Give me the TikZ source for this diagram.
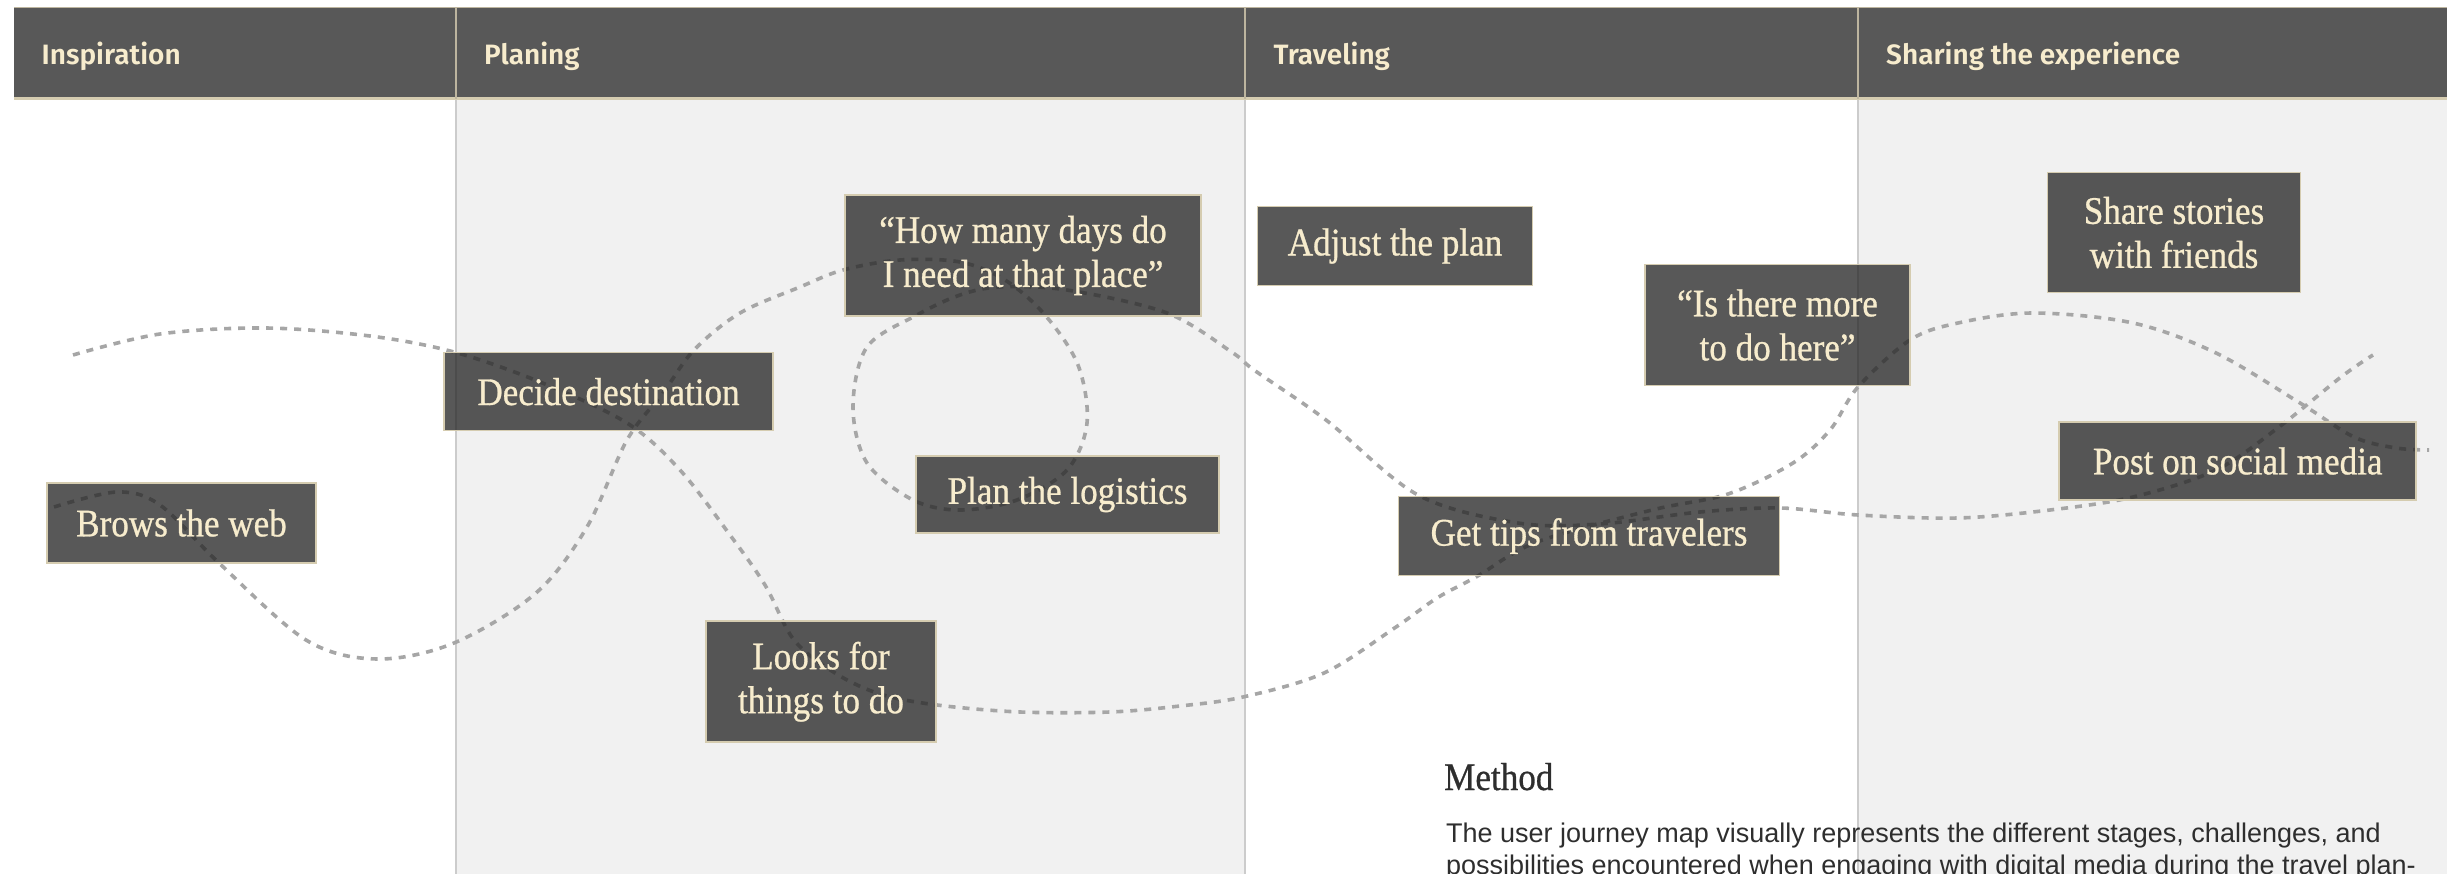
\documentclass[tikz,border=0pt]{standalone}
\usepackage{fontspec}
\setmainfont{Liberation Serif}
\newfontfamily\boxfont[FakeStretch=0.9,FakeBold=0.7]{Liberation Serif}
\newfontfamily\parafont{Liberation Sans}
\IfFontExistsTF{Fira Sans SemiBold}{\newfontfamily\hdrfont{Fira Sans SemiBold}}{\newfontfamily\hdrfontX{Fira Sans}\def\hdrfont{\hdrfontX\bfseries}}
\definecolor{hdr}{HTML}{585858}
\definecolor{cream}{HTML}{F7ECCD}
\definecolor{boxedge}{HTML}{D5CCB0}
\definecolor{colgray}{HTML}{F1F1F1}
\definecolor{sepline}{HTML}{CCCCCC}
\definecolor{dashc}{HTML}{A6A6A6}
\definecolor{boxfill}{HTML}{242424}
\definecolor{hdrline}{HTML}{BDB59F}
\definecolor{bodytext}{HTML}{2E2E2E}
\tikzset{
  jbox/.style={draw=boxedge, line width=1.5pt, fill=boxfill, fill opacity=0.76, text opacity=1,
    text=cream, font=\boxfont\fontsize{39}{44}\selectfont, align=center, inner sep=0pt},
  hdrtext/.style={anchor=base west, text=cream, font=\hdrfont\fontsize{28}{32}\selectfont, inner sep=0pt},
  journey/.style={draw=dashc, line width=3.6pt, dash pattern=on 7pt off 7pt},
  colsep/.style={draw=sepline, line width=1.2pt}
}
\begin{document}
\begin{tikzpicture}[x=1pt,y=-1pt]
\useasboundingbox (0,0) rectangle (2453,874);
\clip (0,0) rectangle (2453,874);
% column backgrounds
\fill[colgray] (456,99) rectangle (1245,874);
\fill[colgray] (1858,99) rectangle (2447,874);
\draw[colsep] (456,99) -- (456,874);
\draw[colsep] (1245,99) -- (1245,874);
\draw[colsep] (1858,99) -- (1858,874);
% header
\fill[hdr] (14,8) rectangle (2447,99);
\draw[hdrline, line width=1pt] (14,8) -- (2447,8);
\draw[boxedge, line width=3pt] (14,99) -- (2447,99);
\draw[hdrline, line width=1.5pt] (456,8) -- (456,99);
\draw[hdrline, line width=1.5pt] (1245,8) -- (1245,99);
\draw[hdrline, line width=1.5pt] (1858,8) -- (1858,99);
\node[hdrtext] (h1) at (41.5,65) {Inspiration};
\node[hdrtext] (h2) at (484,65) {Planing};
\node[hdrtext] (h3) at (1273.5,65) {Traveling};
\node[hdrtext] (h4) at (1886,65) {Sharing the experience};
% journey curves
\coordinate (aStart) at (73,355);
\coordinate (aEnd) at (2429,450);
\coordinate (bStart) at (54,507);
\coordinate (bEnd) at (2373,355);
\draw[journey] plot[smooth, tension=0.55] coordinates {
(aStart) (160,334) (265,328) (370,336) (454,352) (540,382) (627,423) (680,470) (730,535) (765,585)
(794,640) (835,673) (880,694) (937,705) (1020,712) (1110,712) (1180,706) (1243,697) (1324,673)
(1396,627) (1437,598) (1476,577) (1537,542) (1652,510) (1728,494) (1793,463) (1830,430) (1858,387)
(1910,340) (1958,323) (2033,313) (2133,323) (2216,353) (2300,403) (2354,437) (2396,448) (aEnd)};
\draw[journey] plot[smooth, tension=0.55] coordinates {
(bStart) (117,492) (160,505) (219,563) (306,640) (377,659) (454,643) (536,593) (587,527) (627,440)
(663,393) (694,350) (740,313) (800,287) (843,270) (900,260) (960,262) (1005,280) (1045,315)
(1078,365) (1087,423) (1067,470) (1017,500) (960,510) (913,500) (867,463) (853,407) (867,347)
(917,315) (960,295) (1000,287) (1067,290) (1167,313) (1233,353) (1254,370) (1326,420) (1418,495)
(1518,523) (1600,524) (1700,512) (1780,508) (1858,515) (1958,518) (2050,510) (2133,497) (2216,470)
(2279,427) (2341,377) (bEnd)};
% boxes
\node[jbox, minimum width=269pt, minimum height=80pt] (brows) at (181.5,523) {Brows the web};
\node[jbox, minimum width=329pt, minimum height=78pt] (decide) at (608.5,391.7) {Decide destination};
\node[jbox, minimum width=356pt, minimum height=121pt] (howmany) at (1023,255.5) {“How many days do\\I need at that place”};
\node[jbox, minimum width=303pt, minimum height=77pt] (plan) at (1067.5,494.5) {Plan the logistics};
\node[jbox, minimum width=230pt, minimum height=121pt] (looks) at (821,681.7) {Looks for\\things to do};
\node[jbox, minimum width=275pt, minimum height=79pt] (adjust) at (1395,246) {Adjust the plan};
\node[jbox, minimum width=265pt, minimum height=121pt] (isthere) at (1777.5,325) {“Is there more\\to do here”};
\node[jbox, minimum width=381pt, minimum height=79pt] (gettips) at (1589,536) {Get tips from travelers};
\node[jbox, minimum width=253pt, minimum height=120pt] (share) at (2174,232.5) {Share stories\\with friends};
\node[jbox, minimum width=357pt, minimum height=78pt] (post) at (2237.7,461) {Post on social media};
% method text
\node[anchor=base west, inner sep=0pt, text=bodytext, font=\boxfont\fontsize{39}{44}\selectfont] (method) at (1444,790) {Method};
\node[anchor=base west, inner sep=0pt, text=bodytext, font=\parafont\fontsize{27}{32}\selectfont] (para1) at (1446,842) {The user journey map visually represents the different stages, challenges, and};
\node[anchor=base west, inner sep=0pt, text=bodytext, font=\parafont\fontsize{27}{32}\selectfont] (para2) at (1446,874) {possibilities encountered when engaging with digital media during the travel plan-};
\end{tikzpicture}
\end{document}
